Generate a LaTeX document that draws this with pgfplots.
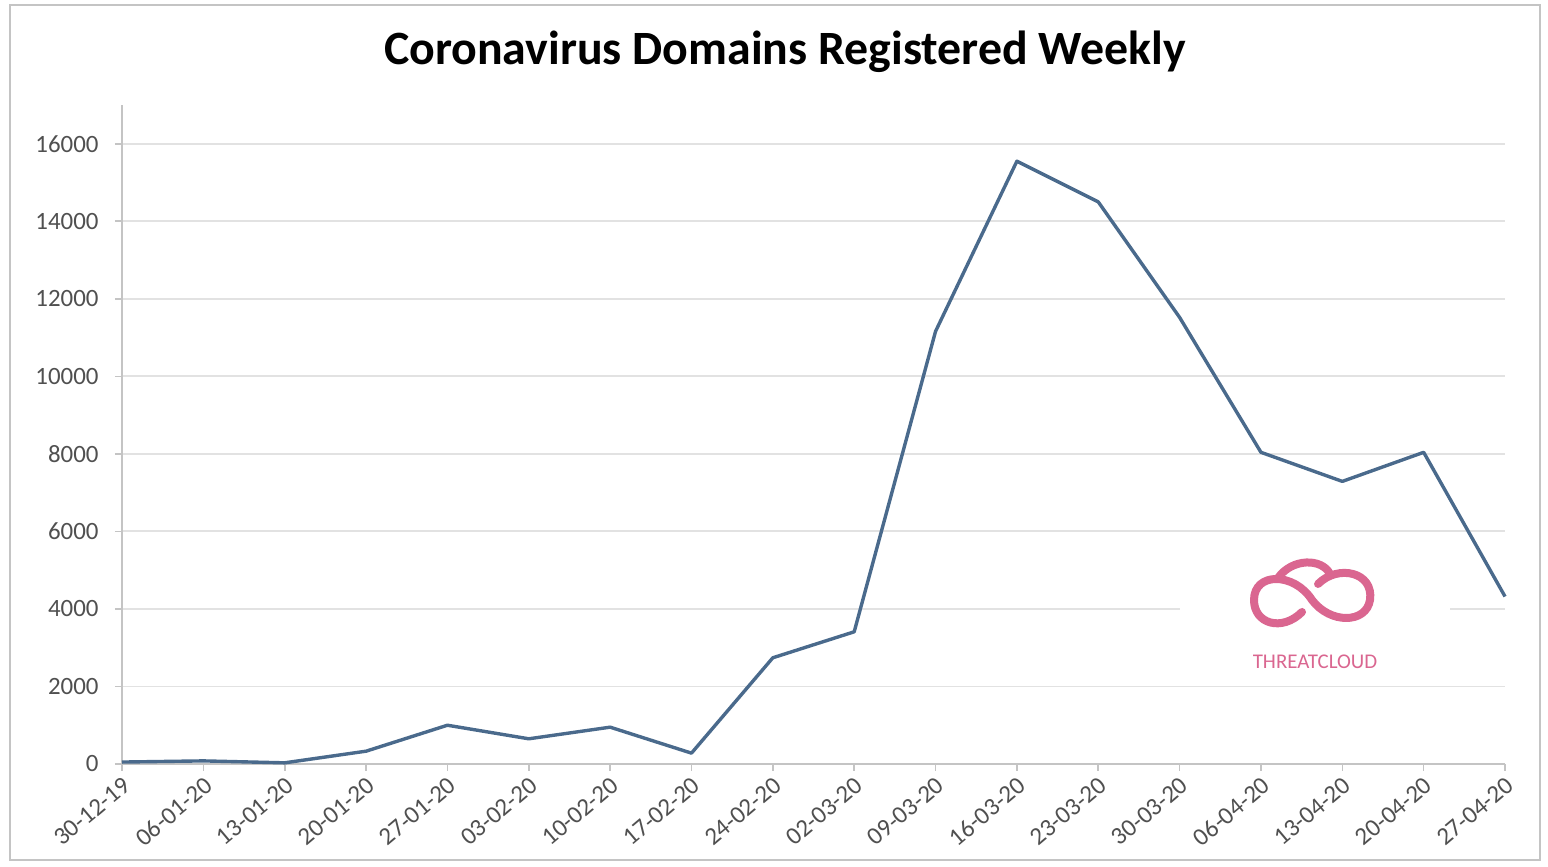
\documentclass[border=0pt]{standalone}
\usepackage{fontspec}
\setmainfont{Carlito}
\usepackage{pgfplots}
\pgfplotsset{compat=1.18}
\definecolor{linec}{HTML}{4A6A8C}
\definecolor{gridc}{HTML}{E2E2E2}
\definecolor{axc}{HTML}{C4C4C4}
\definecolor{tickc}{HTML}{505050}
\definecolor{pinkc}{HTML}{DA6690}
\begin{document}
\begin{tikzpicture}[x=1bp,y=1bp]
\useasboundingbox (-61,-51.5) rectangle (713,382);
\draw[axc, line width=0.9bp] (-56,-48) rectangle (709,379.5);
\begin{axis}[
  at={(0,0)}, anchor=south west,
  scale only axis, width=691.5bp, height=329.5bp,
  xmin=0, xmax=17, ymin=0, ymax=17000,
  axis x line=bottom, axis y line=left,
  axis line style={axc, line width=0.9bp, -},
  tick style={axc, line width=0.8bp},
  tick align=outside, major tick length=3.5bp,
  ytick={0,2000,...,16000},
  ymajorgrids, grid style={gridc, line width=0.9bp},
  scaled y ticks=false,
  /pgf/number format/1000 sep={},
  /pgf/number format/assume math mode=true,
  yticklabel style={font=\fontsize{12.5}{14}\selectfont, text=tickc, inner sep=0bp, xshift=-8bp},
  xtick={0,...,17},
  xticklabels={30-12-19,06-01-20,13-01-20,20-01-20,27-01-20,03-02-20,10-02-20,17-02-20,24-02-20,02-03-20,09-03-20,16-03-20,23-03-20,30-03-20,06-04-20,13-04-20,20-04-20,27-04-20},
  x tick label style={font=\fontsize{12.5}{14}\selectfont, text=tickc, rotate=40, anchor=north east, inner sep=1.5bp},
  clip=false,
]
\addplot[linec, line width=1.7bp, mark=none, line join=round] coordinates {
(0,50) (1,80) (2,30) (3,330) (4,1000) (5,650) (6,950) (7,280) (8,2740) (9,3410)
(10,11160) (11,15550) (12,14500) (13,11520) (14,8040) (15,7290) (16,8040) (17,4320)
};
\end{axis}
\fill[white] (529,39) rectangle (664,100);
\draw[pinkc, line width=4bp, line cap=round] (595,82) .. controls (586,96) and (566,96) .. (566,82) .. controls (566,70) and (580,66) .. (590,76)
  (595,82) .. controls (604,70) and (622,70) .. (624,82) .. controls (626,96) and (608,100) .. (598,90);
\draw[pinkc, line width=4bp, line cap=round] (578,93) .. controls (585,103) and (600,103) .. (604,95);
\node[pinkc, font=\fontsize{10.5}{12}\selectfont] at (596.5,51) {THREATCLOUD};
\node[font=\bfseries\fontsize{24}{28}\selectfont] at (331.5,356) {Coronavirus Domains Registered Weekly};
\end{tikzpicture}
\end{document}
